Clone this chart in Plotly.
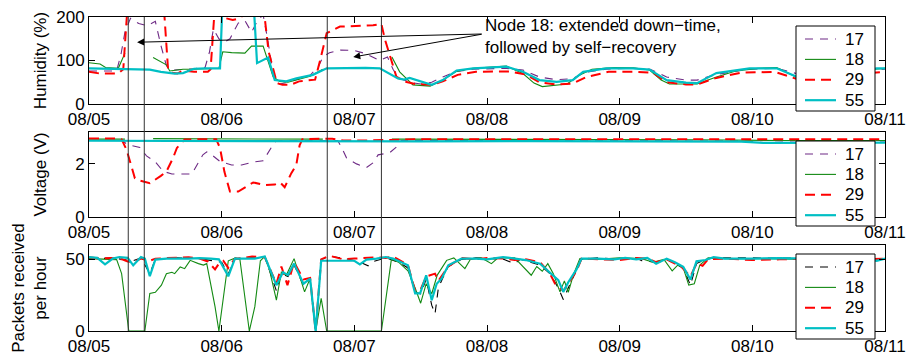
import plotly.graph_objects as go

DAY_TICKS = [0, 24, 48, 72, 96, 120, 144]
DAY_LABELS = ["08/05", "08/06", "08/07", "08/08", "08/09", "08/10", "08/11"]
NODES = ["17", "18", "29", "55"]
EVENT_HOURS = [7.1, 10.0, 43.1, 52.9]

# ---- Humidity (%) : (hour since 08/05 00:00, value) ----
HUM_17 = [(0,76),(3,75),(5,76),(5.8,115),(6.5,165),(7.5,197),(9,185),(10.5,180),(12,190),(13,135),(14,88),(15,78),
          (17,79),(19,81),(21,84),(21.8,120),(22.5,172),(23.5,150),(24.5,142),(25.5,150),(27,186),(28.2,192),(29.4,165),
          (30.5,192),(31.5,205),(32.3,150),(33.5,55),(34.5,46),(36,50),(38,58),(40,66),(41.5,86),(42.3,108),(43.5,118),
          (45.5,124),(48,123),(50,116),(52.6,100),(54,108),(55,80),(56,60),(58,50),(60,46),(62,50),(64,62),(66.5,75),
          (69.5,80),(75.5,82),(78.5,78),(81.5,62),(84.5,56),(87.5,58),(89.5,72),(93.5,80),(98.5,82),(101.5,80),(104.5,62),
          (108,55),(110,55),(113.5,68),(119.5,80),(124.5,82),(127.5,72),(132,56),(136,60),(140,78),(144,80)]
HUM_18 = [(0,95),(2,92),(3,84),(5.3,82),(6.5,117),(7,None),(11.6,107),(13,98),(14,90),(14.6,76),(16,78),(17,80),(19,80),
          (21,81),(23.5,82),(24.2,120),(25.8,118),(28.2,117),(29.4,133),(31.5,133),(33.3,63),(34.5,52),(36,50),(38,57),
          (40,64),(42.3,80),(43,None),(54.8,108),(56.2,74),(58.6,44),(61.7,41),(64,55),(66.5,75),(69.5,82),(75.5,87),
          (78.5,70),(80.5,48),(82,40),(84.5,44),(86.5,46),(88.5,65),(91,80),(95,84),(98.4,83),(101.4,78),(103.5,55),
          (105,46),(108,45),(110,46),(113.5,62),(117,76),(121,82),(124.4,84),(127.3,66),(130,45),(134,46),(138,65),
          (142,80),(144,82)]
HUM_29 = [(0,74),(2,70),(5.3,70),(6.2,80),(7,230),(13.5,230),(14.3,80),(15,72),(16,70),(17,77),(19,74),(21.5,74),
          (22,80),(22.8,230),(23.8,230),(24.5,198),(26,193),(27.5,198),(28.5,230),(31.5,230),(32.5,120),(34,48),(35,44),
          (36.4,44),(38,52),(40.9,56),(41.8,100),(43,163),(45.4,178),(51.4,181),(52.9,184),(53.5,150),(55.6,63),(57,52),
          (59,46),(62,44),(64,52),(66.7,67),(70,74),(76,75),(79,68),(81.5,50),(84.5,45),(87.5,47),(90,62),(94,74),(99,74),
          (102,72),(104.5,50),(108,45),(110,45),(113.5,60),(118,72),(124,74),(127,62),(131,45),(135,48),(140,70),(144,74)]
HUM_55 = [(0,82),(3,81),(6,80),(9.5,80),(11,79),(13,74),(15.5,70),(17,71),(19,81),(21,82),(23.7,82),(24.2,250),
          (29.7,250),(30.4,94),(32.4,107),(33.6,55),(35.7,52),(37.5,59),(40.5,67),(43,82),(46,83),(50,83),(52.6,82),
          (55.9,59),(57,56),(58,60),(62,44),(64,55),(66.5,77),(69.5,82),(75.5,86),(78.5,74),(81.5,55),(84.6,51),(87.5,55),
          (89.4,74),(93.6,82),(98.4,82),(101.4,79),(104.5,55),(108,49),(110,48),(113.5,71),(119.5,82),(124.4,82),
          (127.3,67),(130,52),(134,50),(138,70),(142.5,82),(144,82)]

# ---- Voltage (V) ----
VOLT_17 = [(0,2.88),(6,2.88),(7,2.72),(9.2,2.62),(10.4,2.3),(12,2.08),(13.4,1.72),(15,1.62),(18.6,1.62),(20.6,2.34),
           (21.3,2.45),(22.2,2.34),(23.7,2.09),(25.8,1.96),(27.6,1.96),(29.7,2.07),(31.5,2.12),(33.3,2.72),(34,2.88),
           (45,2.88),(45.9,2.53),(46.6,2.22),(48.4,2.0),(50.2,1.86),(51.4,2.04),(52.3,2.34),(54.4,2.42),(55.7,2.65),
           (56.5,2.88),(80,2.87),(100,2.87),(118,2.86),(122,2.8),(126,2.82),(135,2.8),(144,2.82)]
VOLT_18 = [(0,2.93),(6.5,2.93),(7,None),(11.6,2.95),(20,2.94),(30,2.93),(42.3,2.93),(43,None),(54.8,2.93),(70,2.93),
           (90,2.92),(110,2.91),(125,2.88),(135,2.88),(144,2.88)]
VOLT_29 = [(0,2.96),(5,2.95),(5.9,2.92),(6.8,2.53),(8.3,1.46),(9,1.38),(11,1.27),(12,1.4),(13,1.55),(14,1.71),(15.2,2.22),
           (15.9,2.6),(17.3,2.92),(23,2.93),(23.7,2.6),(24.5,1.7),(25.5,0.96),(27,0.96),(28.8,1.2),(29.7,1.3),(32,1.2),
           (33.6,1.22),(34.6,1.3),(35.4,1.12),(36.6,1.65),(37.5,1.96),(38.1,2.7),(38.6,2.93),(44,2.95),(46,2.88),(50,2.88),
           (55,2.9),(60,2.93),(144,2.93)]
VOLT_55 = [(0,2.87),(20,2.86),(40,2.87),(60,2.85),(80,2.86),(100,2.85),(118,2.84),(122,2.79),(128,2.8),(135,2.79),(144,2.8)]

# ---- Packets received per hour ----
PKT_17 = [(0,51),(2,50.5),(4,51),(6,50),(8,49),(9.4,51),(11,40),(12,50),(16,51),(20,50.5),(22,49),(24,48),(25.2,40),
          (26.4,50),(28,51),(31.8,52),(33.9,28),(34.8,40),(36,38),(37.1,46),(38.8,32),(40,35),(41,0),(42,50),(44,52),
          (47,50),(49,48),(50.5,45.5),(51.5,48.5),(53.7,51),(56,48),(57.7,44),(59,27),(60,26),(61,36),(62,18),(62.6,12),
          (63.2,30),(64,37),(65,45),(67.4,50),(70,51),(73,50.5),(75,50),(77,47),(78,50),(81.6,46),(83.4,40),(84.9,30),
          (85.8,22),(86.7,30),(88.2,42),(89.1,50),(92,51),(96,50),(99,51),(100,49),(102.6,48),(104.5,50),(106,47),
          (107.5,44),(108.8,32),(109.9,47),(111.5,50),(113,51),(120,51),(130,50.5),(140,50.5),(144,50.5)]
PKT_18 = [(0,50.5),(3,50),(5,49.8),(5.9,40),(7.2,0),(10.1,0),(11,26.2),(12,27),(13.1,32),(14,40),(15,41),(15.5,40),
          (16.5,44.7),(17.3,43.5),(18.3,49.3),(19.8,47),(20.7,46),(21.3,47),(21.9,35.4),(22.8,17),(23.5,0),(24.3,21.5),
          (25.2,49),(26.5,51),(27.3,50),(29,0),(30,17),(31,49),(31.8,52),(32.7,42),(33.9,21.5),(34.8,41),(35.7,39),
          (37.1,50.5),(38,40),(39,27.3),(40,36.6),(41,0),(42,22.7),(43,0),(52.9,0),(54.7,50),(56,48),(57.7,42),(59,30),
          (60,19.4),(61,33),(62,26),(63,39),(64.7,49.3),(66,51),(68,43.5),(69,50),(71,51),(72.8,47),(74,51),(77,51),
          (80,38.9),(81,45),(82,41.7),(83,47),(84,40),(85.2,27.3),(86,35),(86.7,27),(87.7,40),(88.8,50.5),(92,50),
          (96,51),(100,50.5),(102,48),(104,50),(105.5,42),(106.5,46),(107.5,44),(108.5,32),(109.5,33),(110.5,46),
          (112,51),(115,50.5),(120,50.5),(130,50),(140,50.5),(144,50.5)]
PKT_29 = [(0,51.5),(2,50.5),(4,51),(6,50),(7,48.5),(8,48),(9.4,50.5),(11,49),(12,50.5),(16,51),(18,51.5),(20,50.5),
          (21.5,48.5),(22.8,43),(23.5,47),(24.3,49),(25.2,44),(26.4,50.5),(28,51),(29.5,52),(31.8,51.5),(33.9,33),
          (34.8,45),(35.9,32),(37.1,48),(38.8,36),(40,37),(41,0),(42,50),(43.5,52.5),(46,50),(48,50.5),(50,51),(52,51.5),
          (53.7,51),(55,52),(56.4,49),(57.7,46),(59,28),(60,29),(61,38),(62.6,40),(63.2,35),(65,45),(67.4,51),(70,50),
          (72,51),(75,50.5),(77,49.5),(79,50),(81.6,48),(83.4,40),(84.3,33),(85.8,28),(86.7,33),(87.5,38),(88.2,42),
          (89.1,50.5),(92,50),(96,49.5),(99,51),(101,50.5),(102.6,48),(104.5,50),(106,47),(107,45.5),(108.8,38),
          (109.9,47),(111,45.5),(112,50),(115,50.5),(120,49.5),(125,50),(130,50.5),(140,50),(144,50.5)]
PKT_55 = [(0,51.6),(1.5,51),(2.9,46.5),(4.3,50.5),(5.5,51.6),(7,51),(8,45.8),(9.4,51.6),(10.1,50.5),(11,38.2),
          (12,49.8),(14,50.5),(18,50.5),(20,50.8),(22,50.5),(23.5,50),(25.2,38.2),(26.4,50.5),(28.2,50.5),(30,50.5),
          (31.8,52),(33.9,32),(35.1,41),(36,39),(37.1,47),(38.8,33),(40,36.6),(41,0),(42,49),(44,49),(47,49),(48,49),
          (49,46.5),(50.2,49.8),(52,50.5),(53.7,51.6),(55,50.5),(56.4,48),(57.7,45.8),(59,26.2),(59.9,26.2),(61,38.9),
          (62,21.5),(62.9,33),(63.8,36.6),(65,45.8),(67.4,50.5),(70,50.5),(72,50),(74.9,51.6),(77,50.5),(79,49.5),
          (81.6,47),(83.4,41),(84.9,35.4),(85.8,27.3),(86.7,34),(88.2,43),(89.1,50.5),(92,50.5),(95,50),(97,51),(99,50),
          (101,51),(102.6,47),(104.5,50.5),(106,48),(107.5,44.7),(108.8,35.9),(109.9,48.6),(111.5,49.5),(113,51.5),
          (115,50.5),(120,50.5),(125,50.8),(130,50.5),(140,50.5),(142.5,49),(144,50.5)]

HUMIDITY = {"17": HUM_17, "18": HUM_18, "29": HUM_29, "55": HUM_55}
VOLTAGE = {"17": VOLT_17, "18": VOLT_18, "29": VOLT_29, "55": VOLT_55}
PACKETS = {"17": PKT_17, "18": PKT_18, "29": PKT_29, "55": PKT_55}

FONT = "Liberation Sans, Arial, Helvetica, sans-serif"
PURPLE, GREEN, RED, CYAN = "#6E2A85", "#138A13", "#FF0000", "#00BFC4"


def style(node, panel):
    if node == "17":
        return dict(color="#000000" if panel == 3 else PURPLE, width=1.1, dash="8px,7px")
    if node == "18":
        return dict(color=GREEN, width=1.1)
    if node == "29":
        return dict(color=RED, width=2, dash="10px,6px")
    return dict(color=CYAN, width=2.2)


W, H = 906, 354
PL, PR = 89, 885  # plot area in page pixels


def px_x(px):
    return (px - PL) / (PR - PL)


def px_y(py):
    return 1 - py / H


panels = [  # (index, data, top_px, bottom_px, y-range, y-ticks, title, title standoff, legend top px)
    (1, HUMIDITY, 17, 104, [0, 200], [0, 100, 200], "Humidity (%)", 5, 26),
    (2, VOLTAGE, 132, 217, [0, 3.2], [0, 2], "Voltage (V)", 24, 141),
    (3, PACKETS, 245, 331, [0, 60], [0, 50], "Packets received<br>per hour", 14, 254),
]

fig = go.Figure()
layout = dict(
    width=W, height=H, margin=dict(l=PL, r=W - PR, t=0, b=0, autoexpand=False),
    paper_bgcolor="white", plot_bgcolor="white",
    font=dict(family=FONT, size=17, color="black"),
    showlegend=False,
)

shapes = [dict(type="line", xref="x", yref="paper", x0=h, x1=h, y0=px_y(331), y1=px_y(17),
               line=dict(color="#333333", width=1), layer="above") for h in EVENT_HOURS]
annotations = []

for idx, data, top, bot, yr, yt, title, stand, legtop in panels:
    sfx = "" if idx == 1 else str(idx)
    for node in NODES:
        pts = data[node]
        fig.add_trace(go.Scatter(
            x=[p[0] for p in pts], y=[p[1] for p in pts], mode="lines", name=node,
            line=style(node, idx), connectgaps=False,
            xaxis="x" + sfx, yaxis="y" + sfx,
        ))
    axis_common = dict(showline=True, linecolor="black", linewidth=1, mirror="allticks",
                       ticks="inside", ticklen=6, tickcolor="black", showgrid=False, zeroline=False,
                       automargin=False, ticklabeloverflow="allow",
                       tickfont=dict(size=17, family=FONT, color="black"))
    layout["xaxis" + sfx] = dict(domain=[0, 1], anchor="y" + sfx, range=[0, 144],
                                 tickmode="array", tickvals=DAY_TICKS, ticktext=DAY_LABELS, **axis_common)
    layout["yaxis" + sfx] = dict(domain=[px_y(bot), px_y(top)], anchor="x" + sfx, range=yr,
                                 tickmode="array", tickvals=yt,
                                 title=dict(text=title, font=dict(size=17, family=FONT), standoff=stand),
                                 **axis_common)
    # hand-drawn legend box (matches the compact original spacing)
    shapes.append(dict(type="rect", xref="paper", yref="paper", x0=px_x(796), x1=px_x(875),
                       y0=px_y(legtop + 85), y1=px_y(legtop), fillcolor="white",
                       line=dict(color="black", width=1), layer="above"))
    for i, node in enumerate(NODES):
        yc = legtop + 13 + i * 20.4
        st = style(node, idx)
        shapes.append(dict(type="line", xref="paper", yref="paper", x0=px_x(805), x1=px_x(836),
                           y0=px_y(yc), y1=px_y(yc), layer="above",
                           line=dict(color=st["color"], width=st["width"], dash=st.get("dash", "solid"))))
        annotations.append(dict(xref="paper", yref="paper", x=px_x(843), y=px_y(yc), xanchor="left",
                                yanchor="middle", text=node, showarrow=False,
                                font=dict(size=17, family=FONT, color="black")))

annotations += [
    dict(xref="paper", yref="paper", x=px_x(483), y=px_y(14), xanchor="left", yanchor="top",
         align="left", showarrow=False, text="Node 18: extended down\u2212time,<br>followed by self\u2212recovery",
         font=dict(size=17, family=FONT, color="black")),
    dict(xref="x", yref="y", x=8.7, y=142, axref="x", ayref="y", ax=71.3, ay=161, text="",
         showarrow=True, arrowhead=2, arrowsize=1.4, arrowwidth=1, arrowcolor="black"),
    dict(xref="x", yref="y", x=47.8, y=108, axref="x", ayref="y", ax=71.3, ay=161, text="",
         showarrow=True, arrowhead=2, arrowsize=1.4, arrowwidth=1, arrowcolor="black"),
]

layout["shapes"] = shapes
layout["annotations"] = annotations
fig.update_layout(**layout)
# remove the page's default body margin so the 906x354 figure fills the window exactly
fig.write_html("out.html", config={"displayModeBar": False},
               post_script="document.body.style.margin='0';document.body.style.overflow='hidden';")
